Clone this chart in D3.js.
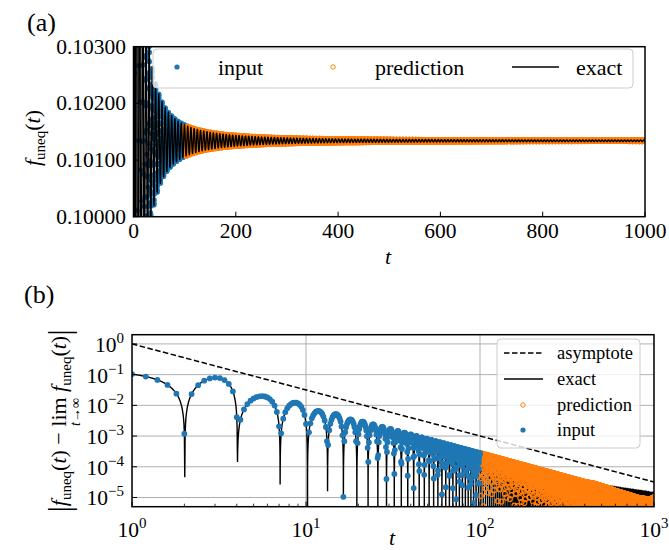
<!DOCTYPE html>
<html><head><meta charset="utf-8">
<script src="https://cdn.jsdelivr.net/npm/d3@7"></script>
<style>
body{margin:0;background:#fff;}
svg{display:block;}
svg text{font-family:'Liberation Serif','Times New Roman','Nimbus Roman',serif;}
</style></head><body>
<svg id="c" width="669" height="550" font-family="Liberation Serif"></svg>
<script>
// ---------------- data ----------------
const plateau = 0.10134;                       // lim f_uneq(t) (flat level of panel a)
const inputStep = 0.2;                         // spacing of the input / prediction samples
const inputEnd = 100, predEnd = 1000;
// zeros of f_uneq(t) - lim (dips of panel b); first entry is where the falling branch before t=2 starts
const zeroT = [-2.0, 2.0104, 4.033, 7.1013, 10.2, 13.3024, 16.402, 19.6];
// heights of the arches between consecutive zeros (panel b)
const archPeak = [0.146, 0.080, 0.020, 0.0123, 0.0066, 0.0052, 0.0035];
const laterZeroSpacing = 3.14;                 // spacing of later dips
// upper edge of the oscillation at later times (panel b)
const envT = [21, 50, 100, 200, 400, 700, 1000];
const envA = [0.0030, 8.1e-4, 2.8e-4, 0.95e-4, 3.2e-5, 1.8e-5, 1.3e-5];
// prediction / exact amplitude ratio at late times
const predRatioT = [100, 450, 600, 800, 950, 1000];
const predRatio  = [1, 1, 0.78, 0.62, 0.62, 0.78];
// asymptote (dashed) end points
const asymT = [1, 1000];
const asymV = [1, 3.2e-5];
// ticks
const aXTicks = [0, 200, 400, 600, 800, 1000];
const aYTicks = [0.100, 0.101, 0.102, 0.103];
const aYLabels = ["0.10000", "0.10100", "0.10200", "0.10300"];
const bXTicks = [1, 10, 100, 1000];
const bXExp = ["0", "1", "2", "3"];
const bYTicks = [1, 1e-1, 1e-2, 1e-3, 1e-4, 1e-5];
const bYExp = ["0", "−1", "−2", "−3", "−4", "−5"];
const legendA = ["input", "prediction", "exact"];
const legendB = ["asymptote", "exact", "prediction", "input"];
const BLUE = "#1f77b4", ORANGE = "#ff7f0e";
const FONT = "'Liberation Serif','Times New Roman',serif";

// ---------------- model of the curve from the read values ----------------
const Z = zeroT.slice();
while (Z[Z.length - 1] < 1005) Z.push(Z[Z.length - 1] + laterZeroSpacing);
const envS = d3.scaleLinear().domain(envT.map(Math.log10)).range(envA.map(Math.log10)).clamp(true);
const env = t => Math.pow(10, envS(Math.log10(t)));
const AMP = Z.slice(0, -1).map((z, k) => k < archPeak.length ? archPeak[k] : env((z + Z[k + 1]) / 2));
function dev(t) {
  const k = d3.bisectRight(Z, t) - 1;
  const z0 = Z[k], z1 = Z[k + 1];
  return (k % 2 === 0 ? 1 : -1) * AMP[k] * Math.sin(Math.PI * (t - z0) / (z1 - z0));
}
const ratioS = d3.scaleLinear().domain(predRatioT).range(predRatio).clamp(true);
const nIn = Math.round(inputEnd / inputStep), nAll = Math.round(predEnd / inputStep);
const inputT = d3.range(0, nIn + 1).map(k => k * inputStep);
const predT = d3.range(nIn + 1, nAll + 1).map(k => k * inputStep);
const inputD = inputT.map(t => ({t, d: dev(t)}));
const predD = predT.map(t => ({t, d: dev(t) * ratioS(t)}));

const svg = d3.select("#c");
const defs = svg.append("defs");
const txt = (sel) => sel.append("text").attr("font-family", FONT);

// ======================= panel (a) =======================
const xA = d3.scaleLinear().domain([0, 1000]).range([133.5, 645]);
const yA = d3.scaleLinear().domain([0.100, 0.103]).range([216.7, 46.7]);
defs.append("clipPath").attr("id", "clipA").append("rect")
  .attr("x", xA(0)).attr("y", yA(0.103)).attr("width", xA(1000) - xA(0)).attr("height", yA(0.1) - yA(0.103));
const gA = svg.append("g").attr("clip-path", "url(#clipA)");
gA.append("g").selectAll("circle").data(inputD.filter(p => Math.abs(p.d) < 0.003)).join("circle")
  .attr("cx", p => xA(p.t)).attr("cy", p => yA(plateau + p.d)).attr("r", 2.6).attr("fill", BLUE);
gA.append("g").selectAll("circle").data(predD).join("circle")
  .attr("cx", p => xA(p.t)).attr("cy", p => yA(plateau + p.d)).attr("r", 2.3)
  .attr("fill", "none").attr("stroke", ORANGE).attr("stroke-width", 1.1);
const exactA = d3.range(0, 20001).map(k => k / 20).map(t => [t, plateau + dev(t)]);
gA.append("path").attr("d", d3.line().x(d => xA(d[0])).y(d => yA(Math.max(0.095, Math.min(0.108, d[1]))))(exactA))
  .attr("fill", "none").attr("stroke", "#000").attr("stroke-width", 1.4);
// frame & ticks
svg.append("rect").attr("x", xA(0)).attr("y", yA(0.103)).attr("width", xA(1000) - xA(0)).attr("height", yA(0.1) - yA(0.103))
  .attr("fill", "none").attr("stroke", "#000").attr("stroke-width", 1.5);
const axA = svg.append("g");
aXTicks.forEach(v => {
  axA.append("line").attr("x1", xA(v)).attr("x2", xA(v)).attr("y1", yA(0.1)).attr("y2", yA(0.1) - 5).attr("stroke", "#000");
  txt(axA).attr("x", xA(v)).attr("y", 238).attr("text-anchor", "middle").attr("font-size", 21.5).text(v);
});
aYTicks.forEach((v, i) => {
  axA.append("line").attr("x1", xA(0)).attr("x2", xA(0) + 5).attr("y1", yA(v)).attr("y2", yA(v)).attr("stroke", "#000");
  txt(axA).attr("x", 126).attr("y", yA(v) + 7).attr("text-anchor", "end").attr("font-size", 21.5).text(aYLabels[i]);
});
txt(svg).attr("x", 388).attr("y", 264).attr("text-anchor", "middle").attr("font-size", 22).attr("font-style", "italic").text("t");
const ylA = txt(svg).attr("transform", "translate(40,138) rotate(-90)").attr("text-anchor", "middle").attr("font-size", 22);
ylA.append("tspan").attr("font-style", "italic").text("f");
ylA.append("tspan").attr("font-size", 15).attr("dy", 5).text("uneq");
ylA.append("tspan").attr("dy", -5).text("(");
ylA.append("tspan").attr("font-style", "italic").text("t");
ylA.append("tspan").text(")");
txt(svg).attr("x", 27).attr("y", 31).attr("font-size", 26).text("(a)");
// legend (a)
const lgA = svg.append("g");
lgA.append("rect").attr("x", 153).attr("y", 49).attr("width", 480).attr("height", 39).attr("rx", 4)
  .attr("fill", "#fff").attr("fill-opacity", 0.8).attr("stroke", "#ccc");
lgA.append("circle").attr("cx", 177).attr("cy", 67).attr("r", 2.6).attr("fill", BLUE);
txt(lgA).attr("x", 218).attr("y", 74.5).attr("font-size", 22).text(legendA[0]);
lgA.append("circle").attr("cx", 333).attr("cy", 67).attr("r", 2.2).attr("fill", "none").attr("stroke", ORANGE);
txt(lgA).attr("x", 375).attr("y", 74.5).attr("font-size", 22).text(legendA[1]);
lgA.append("line").attr("x1", 512).attr("x2", 559).attr("y1", 67).attr("y2", 67).attr("stroke", "#000").attr("stroke-width", 1.4);
txt(lgA).attr("x", 576).attr("y", 74.5).attr("font-size", 22).text(legendA[2]);

// ======================= panel (b) =======================
const xB = d3.scaleLog().domain([1, 1000]).range([132, 654]);
const yB = d3.scaleLog().domain([Math.pow(10, -5.3), Math.pow(10, 0.3)]).range([506.7, 334.7]);
const yTop = yB.range()[1], yBot = yB.range()[0];
defs.append("clipPath").attr("id", "clipB").append("rect")
  .attr("x", xB(1)).attr("y", yTop).attr("width", xB(1000) - xB(1)).attr("height", yBot - yTop);
const gB = svg.append("g").attr("clip-path", "url(#clipB)");
// grid
bYTicks.forEach(v => gB.append("line").attr("x1", xB(1)).attr("x2", xB(1000)).attr("y1", yB(v)).attr("y2", yB(v))
  .attr("stroke", "#b0b0b0").attr("stroke-width", 1));
bXTicks.forEach(v => gB.append("line").attr("x1", xB(v)).attr("x2", xB(v)).attr("y1", yTop).attr("y2", yBot)
  .attr("stroke", "#b0b0b0").attr("stroke-width", 1));
// asymptote
gB.append("path").attr("d", d3.line().x((d, i) => xB(asymT[i])).y(d => yB(d))(asymV))
  .attr("fill", "none").attr("stroke", "#000").attr("stroke-width", 1.5).attr("stroke-dasharray", "5.5,2.5");
// exact
const exactTB = d3.range(100, 10000).map(k => k / 100).concat(d3.range(2000, 20001).map(k => k / 20));
const lo = 1e-8;
gB.append("path").attr("d", d3.line().x(t => xB(t)).y(t => yB(Math.max(lo, Math.abs(dev(t)))))(exactTB))
  .attr("fill", "none").attr("stroke", "#000").attr("stroke-width", 1.4);
// prediction
gB.append("g").selectAll("circle").data(predD.filter(p => Math.abs(p.d) > 2e-6)).join("circle")
  .attr("cx", p => xB(p.t)).attr("cy", p => yB(Math.abs(p.d))).attr("r", 2.5)
  .attr("fill", "none").attr("stroke", ORANGE).attr("stroke-width", 1.2);
// input
gB.append("g").selectAll("circle").data(inputD.filter(p => p.t >= 1 - 1e-9 && Math.abs(p.d) > 2e-6)).join("circle")
  .attr("cx", p => xB(p.t)).attr("cy", p => yB(Math.abs(p.d))).attr("r", 2.9).attr("fill", BLUE);
// frame & ticks
svg.append("rect").attr("x", xB(1)).attr("y", yTop).attr("width", xB(1000) - xB(1)).attr("height", yBot - yTop)
  .attr("fill", "none").attr("stroke", "#000").attr("stroke-width", 1.5);
const axB = svg.append("g");
bXTicks.forEach((v, i) => {
  axB.append("line").attr("x1", xB(v)).attr("x2", xB(v)).attr("y1", yBot).attr("y2", yBot - 5).attr("stroke", "#000");
  const tx = txt(axB).attr("x", xB(v)).attr("y", 536.5).attr("text-anchor", "middle").attr("font-size", 21.5);
  tx.append("tspan").text("10");
  tx.append("tspan").attr("font-size", 15).attr("dy", -9).text(bXExp[i]);
});
[1, 10, 100].forEach(d => d3.range(2, 10).forEach(m => {
  axB.append("line").attr("x1", xB(m * d)).attr("x2", xB(m * d)).attr("y1", yBot).attr("y2", yBot - 3).attr("stroke", "#000").attr("stroke-width", 0.8);
}));
bYTicks.forEach((v, i) => {
  axB.append("line").attr("x1", xB(1)).attr("x2", xB(1) + 5).attr("y1", yB(v)).attr("y2", yB(v)).attr("stroke", "#000");
  const tx = txt(axB).attr("x", 124).attr("y", yB(v) + 8).attr("text-anchor", "end").attr("font-size", 21.5);
  tx.append("tspan").text("10");
  tx.append("tspan").attr("font-size", 15).attr("dy", -9).text(bYExp[i]);
});
txt(svg).attr("x", 392).attr("y", 545).attr("text-anchor", "middle").attr("font-size", 22).attr("font-style", "italic").text("t");
txt(svg).attr("x", 24).attr("y", 303).attr("font-size", 26).text("(b)");
// y label of (b)
const ylB = svg.append("g").attr("transform", "translate(66,421) rotate(-90)");
const lbl = txt(ylB).attr("text-anchor", "middle").attr("font-size", 22);
const pieces = [
  {s: "|", size: 32, dy: 4}, {s: "f", it: true, dy: -4}, {s: "uneq", size: 15, dy: 5}, {s: "(", dy: -5}, {s: "t", it: true}, {s: ")"},
  {s: " − "}, {s: "lim", lim: true}, {s: " "}, {s: "f", it: true}, {s: "uneq", size: 15, dy: 5}, {s: "(", dy: -5}, {s: "t", it: true}, {s: ")"},
  {s: "|", size: 32, dy: 4}
];
let limStart = 0, idx = 0;
pieces.forEach(p => {
  if (p.lim) limStart = idx;
  const ts = lbl.append("tspan").text(p.s);
  if (p.size) ts.attr("font-size", p.size);
  if (p.it) ts.attr("font-style", "italic");
  if (p.dy) ts.attr("dy", p.dy);
  idx += p.s.length;
});
const lnode = lbl.node();
const a0 = lnode.getStartPositionOfChar(limStart).x, a1 = lnode.getEndPositionOfChar(limStart + 2).x;
const sub = txt(ylB).attr("x", (a0 + a1) / 2).attr("y", 14).attr("text-anchor", "middle").attr("font-size", 14);
sub.append("tspan").attr("font-style", "italic").text("t");
sub.append("tspan").text("→∞");
// legend (b)
const lgB = svg.append("g");
lgB.append("rect").attr("x", 497).attr("y", 339).attr("width", 143).attr("height", 109).attr("rx", 4)
  .attr("fill", "#fff").attr("fill-opacity", 0.8).attr("stroke", "#ccc");
const rowY = [353, 379, 405, 430];
lgB.append("line").attr("x1", 504).attr("x2", 543).attr("y1", rowY[0]).attr("y2", rowY[0]).attr("stroke", "#000").attr("stroke-width", 1.5).attr("stroke-dasharray", "5.5,2.5");
lgB.append("line").attr("x1", 504).attr("x2", 543).attr("y1", rowY[1]).attr("y2", rowY[1]).attr("stroke", "#000").attr("stroke-width", 1.4);
lgB.append("circle").attr("cx", 523).attr("cy", rowY[2]).attr("r", 2.2).attr("fill", "none").attr("stroke", ORANGE);
lgB.append("circle").attr("cx", 523).attr("cy", rowY[3]).attr("r", 2.6).attr("fill", BLUE);
legendB.forEach((s, i) => txt(lgB).attr("x", 557).attr("y", rowY[i] + 5.5).attr("font-size", 18.5).text(s));
</script></body></html>
